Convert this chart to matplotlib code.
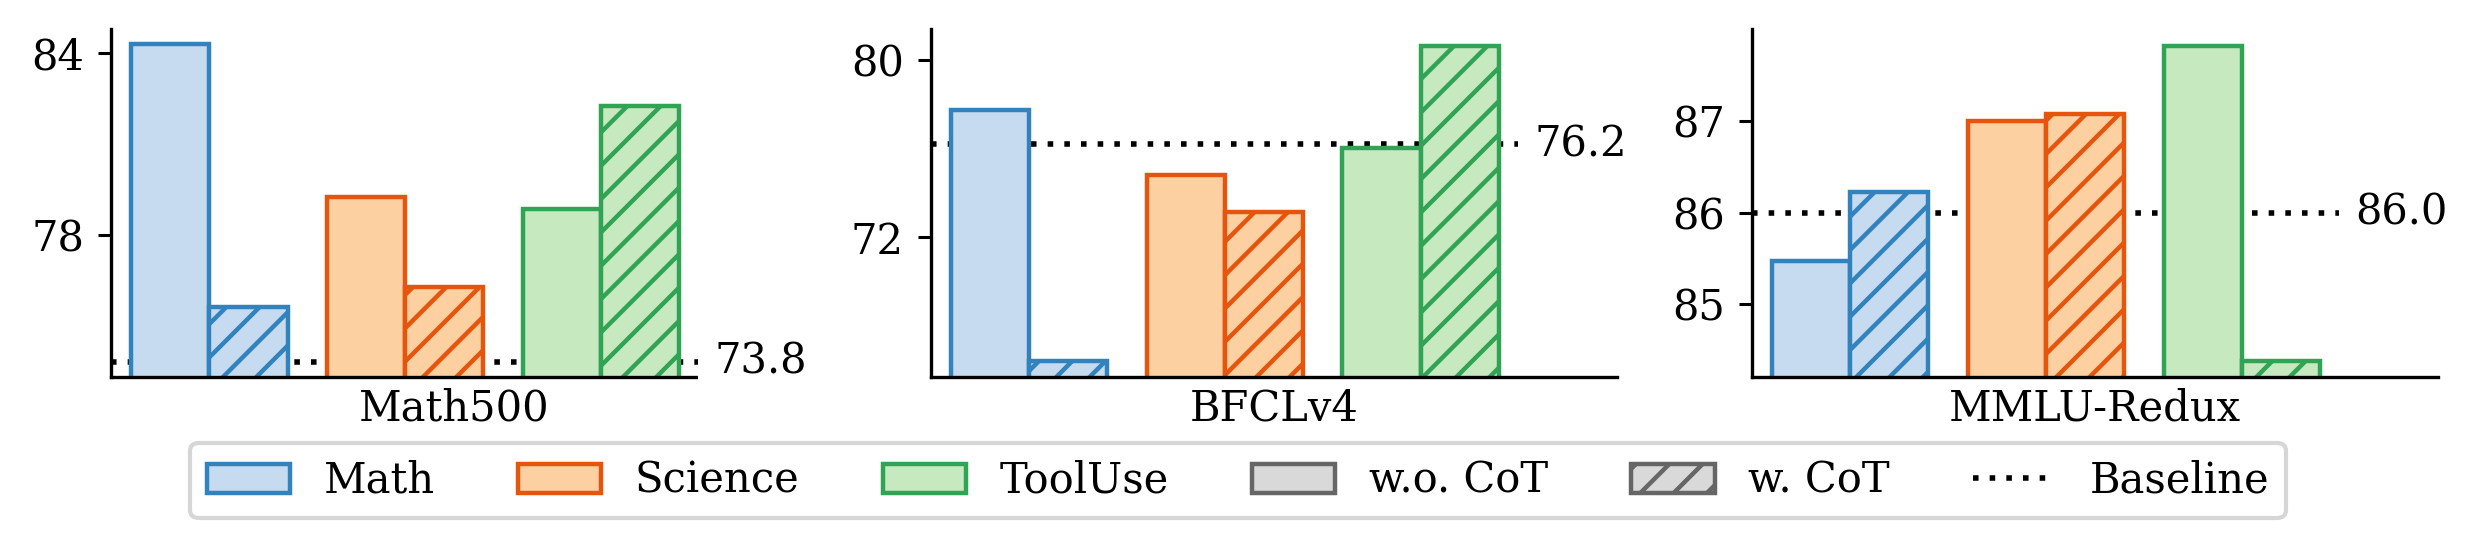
import matplotlib
matplotlib.use("Agg")
import matplotlib.pyplot as plt
from matplotlib.patches import Patch
from matplotlib.lines import Line2D
import numpy as np

plt.rcParams['font.family'] = ['DejaVu Serif']
plt.rcParams['font.size'] = 15
plt.rcParams['hatch.linewidth'] = 1.6

benchmarks = ["Math500", "BFCLv4", "MMLU-Redux"]
domains = ["Math", "Science", "ToolUse"]

# scores per benchmark, order: Math, Science, ToolUse
wo_cot = [
    [84.3, 79.25, 78.85],
    [77.75, 74.8, 76.05],
    [85.47, 87.0, 87.82],
]
w_cot = [
    [75.6, 76.27, 82.27],
    [66.43, 73.16, 80.65],
    [86.23, 87.08, 84.38],
]
baselines = [73.8, 76.2, 86.0]
ylims = [(73.3, 84.8), (65.7, 81.4), (84.21, 88.0)]
yticks = [[78, 84], [72, 80], [85, 86, 87]]

edge_colors = ["#3182bd", "#e6550d", "#31a354"]
face_colors = ["#c6dbef", "#fdd0a2", "#c7e9c0"]
dotted = (0, (1, 2))

fig = plt.figure(figsize=(12.38, 2.74), dpi=200)
lefts = [0.0449, 0.376, 0.7076]
width = 0.277
bw = 0.4
x = np.arange(len(domains))

for k, name in enumerate(benchmarks):
    ax = fig.add_axes([lefts[k], 0.3126, width, 0.634])
    ax.axhline(baselines[k], color="black", linestyle=dotted, lw=2, zorder=1)
    for i in range(len(domains)):
        ax.bar(x[i] - bw / 2, wo_cot[k][i], bw, color=face_colors[i],
               edgecolor=edge_colors[i], linewidth=1.6, zorder=2)
        ax.bar(x[i] + bw / 2, w_cot[k][i], bw, color=face_colors[i],
               edgecolor=edge_colors[i], linewidth=1.6, hatch='//', zorder=2)
    ax.text(2.58, baselines[k], f"{baselines[k]:.1f}", ha="left", va="center",
            bbox=dict(boxstyle="square,pad=0.4", fc="white", ec="none"), zorder=3)
    ax.set_xlim(-0.5, 3.0)
    ax.set_ylim(*ylims[k])
    ax.set_yticks(yticks[k])
    ax.set_xticks([])
    ax.set_xlabel(name)
    ax.spines['top'].set_visible(False)
    ax.spines['right'].set_visible(False)
    ax.spines['left'].set_linewidth(1.2)
    ax.spines['bottom'].set_linewidth(1.2)
    ax.tick_params(axis='y', length=4.7, width=1.1, pad=5)

handles = [Patch(facecolor=face_colors[i], edgecolor=edge_colors[i], linewidth=1.6, label=domains[i])
           for i in range(3)]
handles.append(Patch(facecolor="#d9d9d9", edgecolor="#666666", linewidth=1.6, label="w.o. CoT"))
handles.append(Patch(facecolor="#d9d9d9", edgecolor="#666666", linewidth=1.6, hatch='//', label="w. CoT"))
handles.append(Line2D([0], [0], color="black", linestyle=dotted, lw=2, label="Baseline"))
leg = fig.legend(handles=handles, loc="lower center", bbox_to_anchor=(0.5, 0.016), ncol=6,
                 frameon=True, fancybox=True)
leg.get_frame().set_linewidth(1.5)
leg.get_frame().set_edgecolor("0.8")

fig.savefig("out.png", dpi=200)
